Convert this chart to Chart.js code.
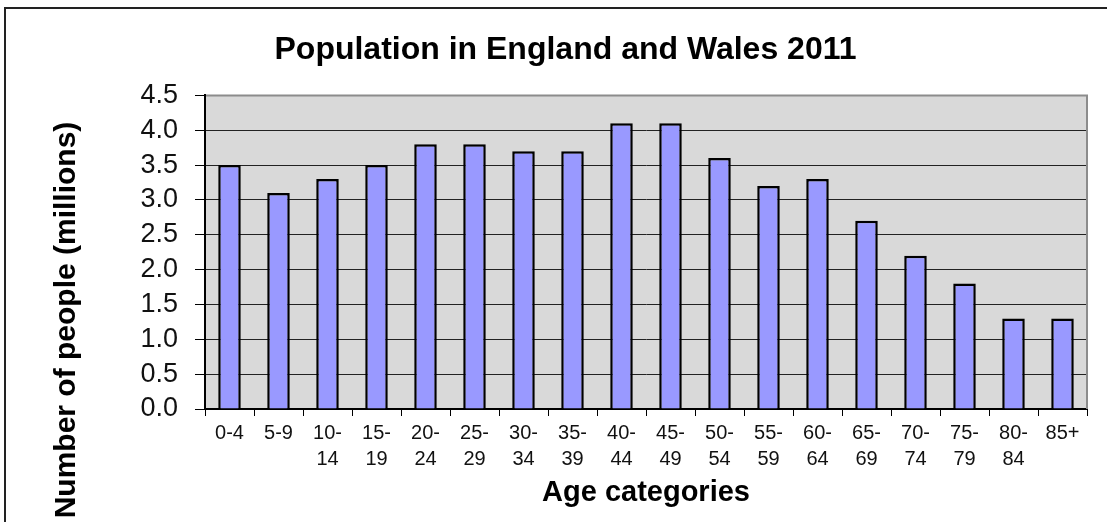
<!DOCTYPE html>
<html>
<head>
<meta charset="utf-8">
<script src="https://cdn.jsdelivr.net/npm/chart.js@4/dist/chart.umd.min.js"></script>
<style>
  html, body { margin: 0; padding: 0; background: #fff; overflow: hidden; }
  #wrap { position: relative; width: 1107px; height: 522px; }
</style>
</head>
<body>
<div id="wrap"><canvas id="popChart" width="1107" height="522"></canvas></div>
<script>
const ageGroups = [
    ['0-4'], ['5-9'], ['10-', '14'], ['15-', '19'], ['20-', '24'], ['25-', '29'],
    ['30-', '34'], ['35-', '39'], ['40-', '44'], ['45-', '49'], ['50-', '54'],
    ['55-', '59'], ['60-', '64'], ['65-', '69'], ['70-', '74'], ['75-', '79'],
    ['80-', '84'], ['85+']
];
const peopleMillions = [3.5, 3.1, 3.3, 3.5, 3.8, 3.8, 3.7, 3.7, 4.1, 4.1, 3.6, 3.2, 3.3, 2.7, 2.2, 1.8, 1.3, 1.3];
const chartTitle = 'Population in England and Wales 2011';
const yTitle = 'Number of people (millions)';
const xTitle = 'Age categories';

// gray plot area + outer frame + rotated y title
const decor = {
    id: 'decor',
    beforeDraw(chart) {
        const { ctx, chartArea: a } = chart;
        ctx.save();
        ctx.fillStyle = '#fff';
        ctx.fillRect(0, 0, chart.width, chart.height);
        ctx.fillStyle = '#d9d9d9';
        ctx.fillRect(a.left, a.top, a.right - a.left, a.bottom - a.top);
        ctx.strokeStyle = '#222';
        ctx.lineWidth = 2;
        ctx.beginPath();
        ctx.moveTo(5, chart.height + 5);
        ctx.lineTo(5, 8);
        ctx.lineTo(chart.width + 5, 8);
        ctx.stroke();
        ctx.restore();
    },
    afterDraw(chart) {
        const { ctx, chartArea: a } = chart;
        ctx.save();
        ctx.strokeStyle = '#8c8c8c';
        ctx.lineWidth = 2;
        ctx.beginPath();
        ctx.moveTo(a.left + 1, a.top);
        ctx.lineTo(a.right, a.top);
        ctx.lineTo(a.right, a.bottom);
        ctx.stroke();
        ctx.translate(67, 320);
        ctx.rotate(-Math.PI / 2);
        ctx.font = 'bold 30px "Liberation Sans", Arial, sans-serif';
        ctx.fillStyle = '#000';
        ctx.textAlign = 'center';
        ctx.textBaseline = 'middle';
        ctx.fillText(yTitle, 0, 0);
        ctx.restore();
    }
};

new Chart(document.getElementById('popChart'), {
    type: 'bar',
    data: {
        labels: ageGroups,
        datasets: [{
            data: peopleMillions,
            backgroundColor: '#9999ff',
            borderColor: '#000',
            borderWidth: 2.5,
            barPercentage: 0.46,
            categoryPercentage: 1
        }]
    },
    options: {
        responsive: false,
        animation: false,
        devicePixelRatio: 1,
        layout: { padding: { left: 44, right: 20, top: 0, bottom: 0 } },
        plugins: {
            legend: { display: false },
            tooltip: { enabled: false },
            title: {
                display: true,
                text: chartTitle,
                color: '#000',
                font: { family: '"Liberation Sans", Arial, sans-serif', size: 32, weight: 'bold' },
                padding: { top: 31, bottom: 26 }
            }
        },
        scales: {
            x: {
                grid: { drawOnChartArea: false, drawTicks: true, tickLength: 7, color: '#000', offset: true },
                border: { color: '#000', width: 2 },
                ticks: {
                    color: '#111',
                    font: { family: '"Liberation Sans", Arial, sans-serif', size: 20, lineHeight: 1.3 },
                    padding: 4,
                    maxRotation: 0,
                    autoSkip: false
                },
                title: {
                    display: true,
                    text: xTitle,
                    color: '#000',
                    font: { family: '"Liberation Sans", Arial, sans-serif', size: 29, weight: 'bold' },
                    padding: { top: 0, bottom: 12 }
                },
                afterFit(s) { s.height = 113; }
            },
            y: {
                min: 0,
                max: 4.5,
                grid: {
                    color: (c) => c.tick && c.tick.value === 4.5 ? '#8c8c8c' : '#222',
                    lineWidth: 1,
                    tickLength: 10,
                    tickColor: '#000'
                },
                border: { color: '#000', width: 2 },
                ticks: {
                    stepSize: 0.5,
                    autoSkip: false,
                    color: '#111',
                    font: { family: '"Liberation Sans", Arial, sans-serif', size: 27 },
                    padding: 17,
                    callback: (v) => Number(v).toFixed(1)
                },
                afterFit(s) { s.width = 161; }
            }
        }
    },
    plugins: [decor]
});
</script>
</body>
</html>
